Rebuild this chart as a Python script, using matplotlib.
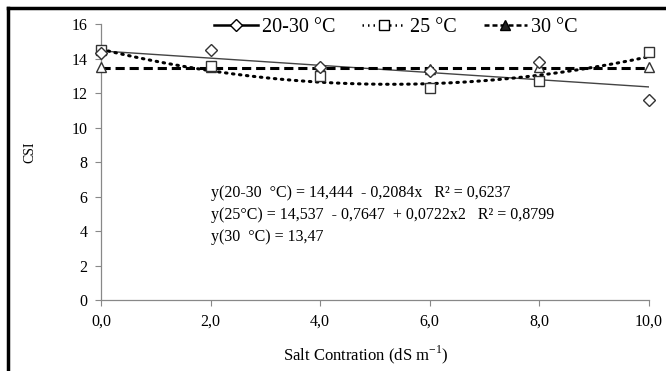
import matplotlib.pyplot as plt
from matplotlib.lines import Line2D
import numpy as np

plt.rcParams['font.family'] = ['Liberation Serif', 'DejaVu Serif']

# Salt concentration (dS m-1)
salt = [0.0, 2.0, 4.0, 6.0, 8.0, 10.0]

# CSI values
csi_2030 = [14.3, 14.5, 13.5, 13.3, 13.8, 11.6]
csi_25 = [14.5, 13.6, 13.0, 12.3, 12.7, 14.4]
csi_30 = [13.5, 13.5, 13.5, 13.4, 13.5, 13.5]

# Regression coefficients (highest power first), from the equations in the chart
fit_2030 = [-0.2084, 14.444]
fit_25 = [0.0722, -0.7647, 14.537]
fit_30 = [13.47]

labels = ['20-30 °C', '25 °C', '30 °C']
equations = [
    'y(20-30  °C) = 14,444  - 0,2084x   R² = 0,6237',
    'y(25°C) = 14,537  - 0,7647  + 0,0722x2   R² = 0,8799',
    'y(30  °C) = 13,47',
]
xticks = [0, 2, 4, 6, 8, 10]
yticks = [0, 2, 4, 6, 8, 10, 12, 14, 16]

fig = plt.figure(figsize=(6.66, 3.71), dpi=100)
ax = fig.add_axes([0.152, 0.191, 0.822, 0.744])

xx = np.linspace(0, 10, 200)
ax.plot(xx, np.polyval(fit_2030, xx), color='#444444', lw=1.0)
ax.plot(xx, np.polyval(fit_25, xx), color='black', lw=2.2, linestyle=(0, (0.5, 1.8)),
        dash_capstyle='round')
ax.plot(xx, np.polyval(fit_30, xx) * np.ones_like(xx), color='black', lw=2.2,
        linestyle=(0, (3.0, 1.6)))

mk = dict(markerfacecolor='white', markeredgecolor='#333333', markeredgewidth=1.0,
          linestyle='none', clip_on=False, zorder=5)
ax.plot(salt, csi_30, marker='^', markersize=7.5, **mk)
ax.plot(salt, csi_25, marker='s', markersize=7.5, **mk)
ax.plot(salt, csi_2030, marker='D', markersize=6, **mk)

ax.set_xlim(0, 10)
ax.set_ylim(0, 16)
ax.set_xticks(xticks)
ax.set_xticklabels([f'{v:.1f}'.replace('.', ',') for v in xticks])
ax.set_yticks(yticks)
ax.tick_params(axis='both', labelsize=11.5, length=4, color='#888888', width=0.8)
ax.tick_params(axis='x', pad=6)
ax.tick_params(axis='y', pad=6)
for s in ['top', 'right']:
    ax.spines[s].set_visible(False)
for s in ['left', 'bottom']:
    ax.spines[s].set_color('#888888')
    ax.spines[s].set_linewidth(0.9)

fig.text(366 / 666, 1 - 355 / 371, 'Salt Contration (dS m$^{\\mathregular{-1}}$)',
         fontsize=12, ha='center', va='center')
fig.text(30 / 666, 1 - 152 / 371, 'CSI', rotation=90, fontsize=10, ha='center', va='center')

eq_y = [6.2, 4.95, 3.65]
for eq, yy in zip(equations, eq_y):
    ax.text(2.0, yy, eq, fontsize=11.5, va='center', ha='left')

handles = [
    Line2D([], [], color='black', lw=1.8, marker='D', markersize=6,
           markerfacecolor='white', markeredgecolor='black'),
    Line2D([], [], color='black', lw=1.8, linestyle=(0, (0.6, 1.6)), marker='s', markersize=7,
           markerfacecolor='white', markeredgecolor='black'),
    Line2D([], [], color='black', lw=1.8, linestyle=(0, (2.0, 1.2)), marker='^', markersize=7,
           markerfacecolor='#222222', markeredgecolor='black'),
]
fig.legend(handles, labels, loc='center', bbox_to_anchor=(396 / 666, 0.927), ncol=3,
           frameon=False, fontsize=14.5, handlelength=2.15, handletextpad=0.2,
           columnspacing=1.35)

# black frame on the left and top edges of the picture
fig.add_artist(Line2D([0.012, 0.012], [0, 0.979], color='black', lw=2.5,
                      transform=fig.transFigure))
fig.add_artist(Line2D([0.012, 1.0], [0.979, 0.979], color='black', lw=2.5,
                      transform=fig.transFigure))

fig.savefig('out.png', dpi=100)
